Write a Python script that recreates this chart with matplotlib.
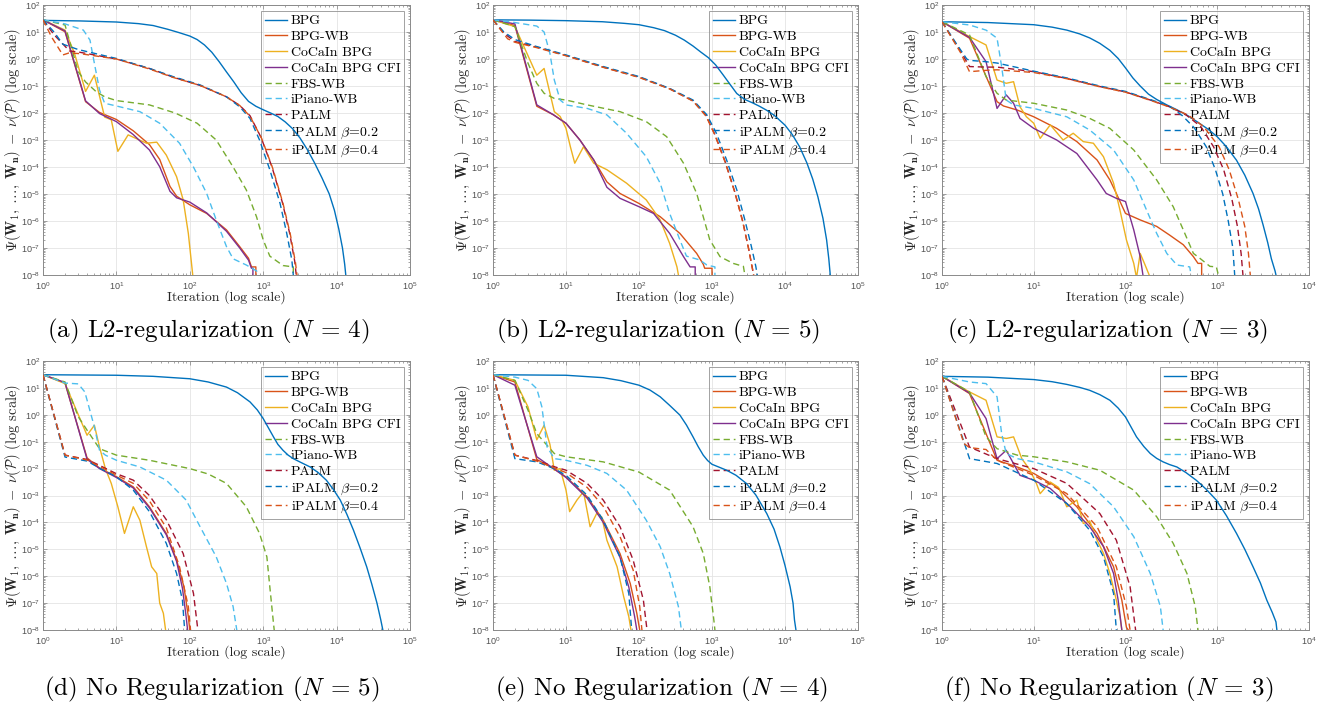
import numpy as np
import matplotlib
matplotlib.use("Agg")
import matplotlib.pyplot as plt
from matplotlib.ticker import LogLocator, NullFormatter, LogFormatterSciNotation

plt.rcParams["font.family"] = "cmr10"
plt.rcParams["mathtext.fontset"] = "dejavusans"
plt.rcParams["axes.formatter.use_mathtext"] = True

# every curve: (log10 iteration, log10 gap) points
SERIES = ["BPG", "BPG-WB", "CoCaIn BPG", "CoCaIn BPG CFI", "FBS-WB",
          "iPiano-WB", "PALM", r"iPALM $\beta$=0.2", r"iPALM $\beta$=0.4"]

CAPTIONS = [r"(a) L2-regularization ($N$ = 4)", r"(b) L2-regularization ($N$ = 5)",
            r"(c) L2-regularization ($N$ = 3)", r"(d) No Regularization ($N$ = 5)",
            r"(e) No Regularization ($N$ = 4)", r"(f) No Regularization ($N$ = 3)"]
X_DECADES = [5, 5, 4, 5, 5, 4]

# ---- (a) ----
A_BPG = [(0, 1.43), (0.5, 1.41), (1.0, 1.37), (1.3, 1.31), (1.5, 1.24), (1.7, 1.1), (1.85, 0.98),
         (2.0, 0.85), (2.1, 0.72), (2.2, 0.52), (2.3, 0.25), (2.4, -0.1), (2.5, -0.48),
         (2.6, -0.85), (2.7, -1.25), (2.8, -1.57), (2.9, -1.75), (3.0, -1.88), (3.1, -2.0),
         (3.2, -2.13), (3.3, -2.33), (3.4, -2.58), (3.5, -2.92), (3.6, -3.35), (3.7, -3.85),
         (3.8, -4.4), (3.9, -5.0), (3.97, -5.6), (4.03, -6.3), (4.08, -7.0), (4.11, -7.6),
         (4.125, -8.0), (4.125, -9)]
A_BPG_WB = [(0, 1.45), (0.3, 1.01), (0.58, -1.58), (0.77, -1.98), (1.0, -2.24), (1.23, -2.66),
            (1.45, -3.17), (1.59, -3.72), (1.73, -4.72), (1.82, -5.08), (2.0, -5.4), (2.23, -5.72),
            (2.5, -6.33), (2.68, -6.95), (2.8, -7.38), (2.84, -7.7), (2.9, -7.7), (2.9, -9)]
A_COCAIN = [(0, 1.45), (0.3, 1.07), (0.43, 0.2), (0.58, -1.2), (0.7, -0.6), (0.84, -2.15),
            (0.93, -2.25), (1.02, -3.42), (1.16, -2.81), (1.41, -3.12), (1.55, -3.08),
            (1.68, -3.56), (1.82, -4.36), (1.91, -5.22), (1.98, -6.46), (2.04, -8.0), (2.04, -9)]
A_CFI = [(0, 1.45), (0.3, 1.04), (0.58, -1.55), (0.77, -2.02), (1.0, -2.32), (1.23, -2.8),
         (1.45, -3.37), (1.59, -3.99), (1.73, -4.9), (1.82, -5.14), (2.0, -5.3), (2.23, -5.7),
         (2.5, -6.38), (2.68, -7.0), (2.8, -7.45), (2.84, -7.75), (2.86, -7.75), (2.86, -9)]
A_FBS = [(0, 1.45), (0.3, 1.26), (0.48, -0.47), (0.58, -0.85), (0.72, -1.2), (0.84, -1.4),
         (1.0, -1.54), (1.45, -1.7), (1.8, -2.0), (2.1, -2.38), (2.36, -3.0), (2.59, -4.0),
         (2.77, -4.85), (2.91, -5.85), (3.0, -6.7), (3.09, -7.3), (3.27, -7.65), (3.41, -7.7),
         (3.41, -9)]
A_IPIANO = [(0, 1.45), (0.3, 1.3), (0.55, 1.07), (0.64, 0.7), (0.7, -0.16), (0.77, -1.15),
            (0.84, -1.64), (1.0, -1.74), (1.32, -1.95), (1.59, -2.38), (1.86, -3.12), (2.05, -4.0),
            (2.23, -4.98), (2.36, -5.96), (2.5, -6.95), (2.59, -7.4), (2.77, -7.63), (2.91, -7.85),
            (2.95, -8.2)]
A_PALM = [(0, 1.45), (0.15, 0.9), (0.36, 0.3), (0.5, 0.25), (1.0, 0.0), (1.45, -0.35),
          (1.77, -0.67), (2.14, -0.98), (2.5, -1.4), (2.68, -1.72), (2.82, -2.1), (2.97, -2.9),
          (3.12, -4.0), (3.26, -5.3), (3.36, -6.45), (3.43, -7.5), (3.45, -8), (3.45, -9)]
A_IPALM2 = [(0, 1.45), (0.15, 1.0), (0.27, 0.55), (0.48, 0.35), (1.0, 0.02), (1.45, -0.35),
            (1.77, -0.65), (2.14, -0.96), (2.5, -1.4), (2.68, -1.77), (2.82, -2.2), (2.95, -3.0),
            (3.09, -4.1), (3.23, -5.35), (3.32, -6.45), (3.39, -7.44), (3.41, -8.0), (3.41, -9)]
A_IPALM4 = [(0, 1.45), (0.12, 0.8), (0.27, 0.15), (0.35, 0.22), (0.5, 0.2), (1.0, 0.0),
            (1.45, -0.37), (1.77, -0.68), (2.14, -0.98), (2.5, -1.4), (2.68, -1.72), (2.82, -2.12),
            (2.98, -2.95), (3.13, -4.05), (3.27, -5.35), (3.37, -6.5), (3.44, -7.55), (3.46, -8),
            (3.46, -9)]

# ---- (b) ----
B_BPG = [(0, 1.45), (0.5, 1.44), (1.0, 1.42), (1.5, 1.38), (1.8, 1.32), (2.0, 1.27), (2.2, 1.16),
         (2.35, 1.05), (2.5, 0.88), (2.62, 0.7), (2.74, 0.48), (2.85, 0.25), (2.95, 0.05),
         (3.05, -0.22), (3.15, -0.58), (3.25, -0.95), (3.34, -1.28), (3.45, -1.5), (3.56, -1.63),
         (3.65, -1.75), (3.75, -1.9), (3.85, -2.08), (4.0, -2.45), (4.1, -2.8), (4.2, -3.25),
         (4.3, -3.85), (4.38, -4.45), (4.45, -5.1), (4.52, -5.9), (4.57, -6.7), (4.6, -7.4),
         (4.62, -8), (4.62, -9)]
B_BPG_WB = [(0, 1.45), (0.3, 1.24), (0.6, -1.75), (0.83, -2.07), (1.0, -2.38), (1.19, -3.0),
            (1.38, -3.74), (1.56, -4.55), (1.74, -4.98), (2.0, -5.35), (2.29, -5.84), (2.56, -6.46),
            (2.79, -7.2), (2.88, -7.6), (2.9, -7.75), (3.0, -7.75), (3.0, -9)]
B_COCAIN = [(0, 1.45), (0.3, 1.2), (0.6, -0.6), (0.7, -0.35), (0.84, -1.95), (0.92, -2.13),
            (1.0, -2.57), (1.06, -3.25), (1.12, -3.86), (1.24, -3.25), (1.38, -3.86), (1.56, -4.1),
            (1.83, -4.6), (2.1, -5.22), (2.29, -5.96), (2.42, -6.83), (2.52, -7.7), (2.54, -8),
            (2.54, -9)]
B_CFI = [(0, 1.45), (0.3, 1.3), (0.6, -1.7), (0.83, -2.07), (1.0, -2.38), (1.19, -3.0),
         (1.38, -3.74), (1.56, -4.75), (1.74, -5.16), (2.0, -5.47), (2.2, -5.72), (2.42, -6.46),
         (2.61, -7.32), (2.7, -7.7), (2.77, -7.7), (2.77, -9)]
B_FBS = [(0, 1.45), (0.3, 1.2), (0.48, -0.16), (0.6, -0.9), (0.7, -1.27), (0.84, -1.46),
         (1.0, -1.52), (1.29, -1.7), (1.74, -1.95), (2.1, -2.32), (2.38, -2.88), (2.61, -3.86),
         (2.79, -4.98), (2.88, -5.84), (2.97, -6.7), (3.11, -7.32), (3.29, -7.57), (3.43, -7.68),
         (3.45, -8), (3.45, -9)]
B_IPIANO = [(0, 1.45), (0.3, 1.35), (0.6, 1.22), (0.7, 1.0), (0.78, 0.2), (0.84, -0.78),
            (0.92, -1.52), (1.0, -1.7), (1.29, -1.83), (1.56, -2.07), (1.83, -2.75), (2.1, -3.62),
            (2.29, -4.6), (2.42, -5.72), (2.56, -6.7), (2.65, -7.3), (2.83, -7.44), (2.93, -7.63),
            (3.04, -7.7), (3.04, -9)]
B_PALM = [(0, 1.45), (0.15, 0.95), (0.3, 0.65), (0.6, 0.44), (1.0, 0.13), (1.51, -0.3),
          (2.0, -0.67), (2.42, -1.1), (2.74, -1.55), (2.92, -2.1), (3.04, -2.8), (3.18, -3.8),
          (3.31, -4.9), (3.42, -6.0), (3.5, -7.0), (3.55, -7.7), (3.57, -8), (3.57, -9)]
B_IPALM2 = [(0, 1.45), (0.15, 1.0), (0.3, 0.72), (0.6, 0.46), (1.0, 0.15), (1.51, -0.28),
            (2.0, -0.65), (2.42, -1.09), (2.74, -1.52), (2.93, -2.07), (3.06, -2.75), (3.2, -3.74),
            (3.34, -4.85), (3.45, -5.96), (3.54, -6.95), (3.6, -7.68), (3.62, -8), (3.62, -9)]
B_IPALM4 = [(0, 1.45), (0.2, 0.75), (0.3, 0.62), (0.6, 0.42), (1.0, 0.12), (1.51, -0.31),
            (2.0, -0.68), (2.42, -1.11), (2.74, -1.56), (2.92, -2.12), (3.04, -2.82), (3.18, -3.82),
            (3.31, -4.92), (3.42, -6.02), (3.5, -7.02), (3.55, -7.72), (3.57, -8), (3.57, -9)]

# ---- (c) ----
C_BPG = [(0, 1.38), (0.5, 1.35), (1.0, 1.27), (1.2, 1.18), (1.36, 1.07), (1.5, 0.93), (1.61, 0.78),
         (1.72, 0.58), (1.83, 0.32), (1.92, 0.02), (2.0, -0.33), (2.08, -0.7), (2.16, -1.0),
         (2.25, -1.3), (2.34, -1.5), (2.45, -1.7), (2.56, -1.88), (2.67, -2.08), (2.77, -2.3),
         (2.9, -2.6), (3.0, -2.88), (3.1, -3.25), (3.21, -3.75), (3.3, -4.3), (3.39, -4.98),
         (3.45, -5.55), (3.5, -6.15), (3.55, -6.8), (3.59, -7.4), (3.63, -7.85), (3.64, -8),
         (3.64, -9)]
C_BPG_WB = [(0, 1.38), (0.3, 0.77), (0.6, -1.58), (0.67, -1.74), (0.82, -1.89), (1.0, -2.14),
            (1.25, -2.57), (1.47, -3.06), (1.69, -3.74), (1.83, -4.48), (1.9, -4.98), (2.0, -5.72),
            (2.16, -5.96), (2.34, -6.2), (2.48, -6.52), (2.63, -6.88), (2.74, -7.32), (2.79, -7.57),
            (2.83, -7.57), (2.83, -9)]
C_COCAIN = [(0, 1.38), (0.3, 0.83), (0.48, 0.52), (0.6, -0.78), (0.7, -0.9), (0.78, -0.84),
            (0.85, -1.77), (0.92, -2.14), (1.0, -2.38), (1.07, -2.94), (1.18, -2.44), (1.32, -3.0),
            (1.43, -2.75), (1.54, -3.06), (1.65, -3.12), (1.76, -3.62), (1.87, -4.6), (1.94, -5.6),
            (2.01, -6.7), (2.09, -7.57), (2.12, -8.1), (2.16, -7.2), (2.21, -7.6), (2.27, -8.1),
            (2.27, -9)]
C_CFI = [(0, 1.38), (0.3, 0.8), (0.48, -0.1), (0.6, -1.83), (0.7, -1.33), (0.78, -1.64),
         (0.85, -2.2), (1.0, -2.57), (1.25, -3.0), (1.47, -3.5), (1.69, -4.48), (1.79, -4.98),
         (1.9, -5.16), (2.0, -5.28), (2.09, -6.33), (2.16, -7.32), (2.19, -8), (2.19, -9)]
C_FBS = [(0, 1.38), (0.3, 0.89), (0.48, -0.65), (0.6, -1.27), (0.7, -1.52), (1.0, -1.64),
         (1.36, -1.89), (1.61, -2.2), (1.83, -2.57), (2.09, -3.37), (2.34, -4.48), (2.52, -5.47),
         (2.63, -6.33), (2.74, -7.2), (2.81, -7.38), (2.92, -7.68), (2.99, -7.7), (3.02, -8.1)]
C_IPIANO = [(0, 1.38), (0.3, 1.26), (0.48, 1.07), (0.6, 0.77), (0.65, -0.28), (0.7, -1.52),
            (0.78, -1.7), (1.0, -1.83), (1.36, -2.14), (1.61, -2.63), (1.87, -3.37), (2.09, -4.48),
            (2.23, -5.6), (2.34, -6.46), (2.45, -7.2), (2.56, -7.63), (2.7, -7.7), (2.72, -8.1)]
C_PALM = [(0, 1.38), (0.2, 0.3), (0.3, -0.28), (0.48, -0.3), (0.6, -0.3), (1.0, -0.47),
          (1.36, -0.72), (1.72, -1.02), (2.0, -1.22), (2.27, -1.52), (2.48, -1.77), (2.66, -2.07),
          (2.82, -2.5), (2.96, -3.25), (3.07, -4.1), (3.16, -5.2), (3.22, -6.2), (3.26, -7.2),
          (3.28, -8), (3.28, -9)]
C_IPALM2 = [(0, 1.38), (0.15, 0.6), (0.27, 0.0), (0.3, -0.05), (0.48, -0.1), (0.6, -0.15),
            (1.0, -0.45), (1.36, -0.7), (1.72, -1.0), (2.0, -1.2), (2.27, -1.5), (2.48, -1.75),
            (2.62, -2.1), (2.75, -2.55), (2.88, -3.25), (2.98, -4.1), (3.06, -5.0), (3.12, -6.0),
            (3.17, -7.0), (3.19, -8), (3.19, -9)]
C_IPALM4 = [(0, 1.38), (0.2, 0.25), (0.3, -0.47), (0.48, -0.42), (0.6, -0.4), (1.0, -0.5),
            (1.36, -0.73), (1.72, -1.03), (2.0, -1.23), (2.27, -1.53), (2.48, -1.78), (2.68, -2.07),
            (2.85, -2.5), (3.02, -3.25), (3.13, -4.1), (3.23, -5.2), (3.3, -6.2), (3.34, -7.2),
            (3.36, -8), (3.36, -9)]

# ---- (d) ----
D_BPG = [(0, 1.49), (1.0, 1.47), (1.5, 1.43), (2.0, 1.34), (2.25, 1.22), (2.5, 1.03), (2.65, 0.82),
         (2.82, 0.48), (2.92, 0.18), (3.0, -0.14), (3.07, -0.48), (3.14, -0.82), (3.2, -1.1),
         (3.27, -1.32), (3.34, -1.5), (3.41, -1.63), (3.52, -1.78), (3.64, -1.94), (3.75, -2.15),
         (3.86, -2.43), (3.95, -2.75), (4.05, -3.17), (4.14, -3.7), (4.23, -4.29), (4.32, -4.95),
         (4.41, -5.65), (4.48, -6.3), (4.55, -7.0), (4.6, -7.6), (4.63, -8), (4.63, -9)]
D_BPG_WB = [(0, 1.49), (0.3, 1.18), (0.6, -1.6), (0.77, -1.98), (1.0, -2.3), (1.23, -2.68),
            (1.45, -3.42), (1.68, -4.41), (1.82, -5.4), (1.92, -6.39), (1.98, -7.5), (2.0, -8),
            (2.0, -9)]
D_COCAIN = [(0, 1.49), (0.3, 1.16), (0.6, -0.76), (0.7, -0.39), (0.77, -1.2), (0.85, -2.0),
            (0.93, -2.55), (1.02, -3.42), (1.11, -4.41), (1.23, -3.42), (1.32, -3.92), (1.41, -4.91),
            (1.48, -5.65), (1.55, -5.9), (1.59, -7.0), (1.64, -7.38), (1.67, -8), (1.67, -9)]
D_CFI = [(0, 1.49), (0.3, 1.2), (0.6, -1.65), (0.77, -2.0), (1.0, -2.33), (1.23, -2.72),
         (1.45, -3.46), (1.68, -4.46), (1.82, -5.45), (1.9, -6.45), (1.95, -7.5), (1.97, -8),
         (1.97, -9)]
D_FBS = [(0, 1.49), (0.3, 1.22), (0.48, -0.07), (0.6, -0.57), (0.77, -1.26), (1.0, -1.5),
         (1.45, -1.69), (2.0, -2.0), (2.25, -2.2), (2.5, -2.55), (2.77, -3.42), (2.95, -4.41),
         (3.05, -5.28), (3.09, -6.39), (3.14, -7.75), (3.15, -8), (3.15, -9)]
D_IPIANO = [(0, 1.49), (0.3, 1.18), (0.48, 1.15), (0.57, 0.85), (0.7, -0.45), (0.77, -1.32),
            (0.85, -1.5), (1.0, -1.69), (1.32, -1.94), (1.68, -2.43), (1.95, -3.17), (2.14, -4.16),
            (2.36, -5.28), (2.5, -6.27), (2.59, -7.13), (2.64, -8), (2.64, -9)]
D_PALM = [(0, 1.49), (0.3, -1.5), (0.6, -1.66), (0.77, -1.88), (1.0, -2.19), (1.23, -2.43),
          (1.45, -3.0), (1.68, -3.9), (1.91, -5.16), (2.05, -6.64), (2.11, -8), (2.11, -9)]
D_IPALM2 = [(0, 1.49), (0.3, -1.57), (0.6, -1.72), (0.77, -1.98), (1.0, -2.3), (1.23, -2.8),
            (1.45, -3.6), (1.68, -4.78), (1.82, -5.9), (1.9, -6.9), (1.93, -8), (1.93, -9)]
D_IPALM4 = [(0, 1.49), (0.3, -1.5), (0.6, -1.68), (0.77, -1.92), (1.0, -2.24), (1.23, -2.55),
            (1.45, -3.2), (1.68, -4.2), (1.86, -5.65), (1.98, -7.13), (2.01, -8), (2.01, -9)]

# ---- (e) ----
E_BPG = [(0, 1.49), (1.0, 1.47), (1.51, 1.38), (1.75, 1.27), (2.0, 1.1), (2.15, 0.92), (2.29, 0.67),
         (2.42, 0.35), (2.56, -0.01), (2.65, -0.38), (2.74, -0.82), (2.81, -1.18), (2.88, -1.5),
         (2.94, -1.7), (3.0, -1.84), (3.1, -1.95), (3.2, -2.06), (3.33, -2.25), (3.47, -2.55),
         (3.6, -2.98), (3.75, -3.67), (3.85, -4.25), (3.93, -4.91), (4.0, -5.6), (4.07, -6.39),
         (4.11, -7.0), (4.13, -7.63), (4.15, -8), (4.15, -9)]
E_BPG_WB = [(0, 1.49), (0.3, 1.22), (0.6, -1.66), (0.83, -2.0), (1.0, -2.31), (1.29, -3.05),
            (1.51, -3.92), (1.74, -5.16), (1.88, -6.27), (1.97, -7.38), (2.01, -8), (2.01, -9)]
E_COCAIN = [(0, 1.49), (0.3, 1.28), (0.48, 0.29), (0.6, -0.93), (0.7, -0.39), (0.78, -1.1),
            (0.84, -2.06), (0.92, -2.0), (1.0, -2.8), (1.05, -3.6), (1.15, -3.17), (1.24, -2.86),
            (1.33, -4.16), (1.42, -3.67), (1.49, -3.8), (1.56, -4.66), (1.7, -5.65), (1.79, -6.76),
            (1.86, -7.5), (1.89, -8), (1.89, -9)]
E_CFI = [(0, 1.49), (0.3, 1.1), (0.6, -1.56), (0.83, -2.0), (1.0, -2.33), (1.29, -3.1),
         (1.51, -4.0), (1.74, -5.3), (1.86, -6.4), (1.94, -7.5), (1.97, -8), (1.97, -9)]
E_FBS = [(0, 1.49), (0.3, 1.28), (0.48, 0.17), (0.6, -0.7), (0.84, -1.44), (1.0, -1.56),
         (1.51, -1.75), (2.0, -2.13), (2.42, -2.8), (2.74, -4.16), (2.88, -5.15), (2.97, -6.39),
         (3.02, -7.5), (3.04, -8), (3.04, -9)]
E_IPIANO = [(0, 1.49), (0.3, 1.4), (0.48, 1.28), (0.6, 0.97), (0.67, 0.29), (0.74, -1.19),
            (0.84, -1.63), (1.0, -1.69), (1.29, -1.88), (1.56, -2.18), (1.83, -2.8), (2.1, -3.92),
            (2.29, -4.9), (2.42, -5.9), (2.54, -7.13), (2.58, -8), (2.58, -9)]
E_PALM = [(0, 1.49), (0.3, -1.5), (0.6, -1.7), (0.84, -1.93), (1.0, -2.06), (1.29, -2.55),
          (1.51, -3.17), (1.74, -4.16), (1.92, -5.4), (2.06, -6.89), (2.11, -8), (2.11, -9)]
E_IPALM2 = [(0, 1.49), (0.3, -1.63), (0.6, -1.75), (0.84, -2.0), (1.0, -2.25), (1.29, -2.99),
            (1.51, -3.92), (1.74, -5.28), (1.86, -6.64), (1.9, -8), (1.9, -9)]
E_IPALM4 = [(0, 1.49), (0.3, -1.5), (0.6, -1.72), (0.84, -1.97), (1.0, -2.15), (1.29, -2.7),
            (1.51, -3.4), (1.74, -4.53), (1.92, -5.77), (2.01, -7.13), (2.04, -8), (2.04, -9)]

# ---- (f) ----
F_BPG = [(0, 1.43), (0.5, 1.4), (1.0, 1.31), (1.2, 1.23), (1.36, 1.13), (1.5, 1.02), (1.61, 0.91),
         (1.72, 0.75), (1.83, 0.54), (1.92, 0.25), (2.0, -0.08), (2.06, -0.45), (2.12, -0.82),
         (2.2, -1.18), (2.27, -1.44), (2.34, -1.62), (2.41, -1.75), (2.48, -1.85), (2.56, -1.94),
         (2.66, -2.15), (2.77, -2.43), (2.88, -2.77), (2.99, -3.17), (3.1, -3.75), (3.21, -4.41),
         (3.3, -5.0), (3.39, -5.65), (3.47, -6.25), (3.54, -6.89), (3.6, -7.35), (3.64, -7.7),
         (3.65, -8), (3.65, -9)]
F_BPG_WB = [(0, 1.43), (0.3, 0.79), (0.6, -1.69), (0.82, -1.94), (1.0, -2.18), (1.25, -2.68),
            (1.47, -3.42), (1.69, -4.41), (1.87, -5.65), (1.96, -6.89), (2.01, -7.9), (2.03, -8),
            (2.03, -9)]
F_COCAIN = [(0, 1.43), (0.3, 0.85), (0.48, 0.54), (0.6, -0.82), (0.7, -0.88), (0.78, -0.82),
            (0.87, -1.63), (0.96, -2.06), (1.03, -2.56), (1.07, -2.93), (1.18, -2.5), (1.27, -2.7),
            (1.36, -3.42), (1.47, -3.17), (1.54, -4.04), (1.61, -3.95), (1.69, -4.66), (1.76, -5.15),
            (1.83, -5.9), (1.9, -6.89), (1.94, -7.5), (1.96, -8), (1.96, -9)]
F_CFI = [(0, 1.43), (0.3, 0.81), (0.48, -0.14), (0.6, -1.63), (0.7, -1.32), (0.85, -2.25),
         (1.0, -2.43), (1.18, -2.74), (1.4, -3.42), (1.61, -4.16), (1.76, -4.9), (1.87, -5.9),
         (1.92, -6.89), (1.96, -8), (1.96, -9)]
F_FBS = [(0, 1.43), (0.3, 0.85), (0.48, -0.82), (0.6, -1.26), (0.82, -1.5), (1.0, -1.56),
         (1.36, -1.75), (1.72, -2.06), (2.09, -2.8), (2.34, -3.79), (2.52, -4.78), (2.67, -5.9),
         (2.76, -7.13), (2.79, -8), (2.79, -9)]
F_IPIANO = [(0, 1.43), (0.3, 1.22), (0.48, 1.16), (0.6, 0.67), (0.65, -0.7), (0.7, -1.44),
            (0.82, -1.63), (1.0, -1.75), (1.36, -2.12), (1.61, -2.56), (1.87, -3.42), (2.09, -4.53),
            (2.27, -5.9), (2.38, -7.13), (2.41, -8), (2.41, -9)]
F_PALM = [(0, 1.43), (0.3, -1.2), (0.6, -1.63), (1.0, -2.0), (1.36, -2.55), (1.72, -3.67),
          (1.9, -4.66), (2.05, -6.39), (2.11, -8), (2.11, -9)]
F_IPALM2 = [(0, 1.43), (0.3, -1.63), (0.6, -1.81), (1.0, -2.43), (1.36, -3.3), (1.61, -4.29),
            (1.76, -5.28), (1.87, -6.64), (1.9, -8), (1.9, -9)]
F_IPALM4 = [(0, 1.43), (0.24, -1.07), (0.3, -1.22), (0.48, -1.29), (0.6, -1.69), (1.0, -2.25),
            (1.36, -2.93), (1.69, -4.16), (1.9, -5.65), (2.01, -7.13), (2.05, -8), (2.05, -9)]

PANELS = [
    [A_BPG, A_BPG_WB, A_COCAIN, A_CFI, A_FBS, A_IPIANO, A_PALM, A_IPALM2, A_IPALM4],
    [B_BPG, B_BPG_WB, B_COCAIN, B_CFI, B_FBS, B_IPIANO, B_PALM, B_IPALM2, B_IPALM4],
    [C_BPG, C_BPG_WB, C_COCAIN, C_CFI, C_FBS, C_IPIANO, C_PALM, C_IPALM2, C_IPALM4],
    [D_BPG, D_BPG_WB, D_COCAIN, D_CFI, D_FBS, D_IPIANO, D_PALM, D_IPALM2, D_IPALM4],
    [E_BPG, E_BPG_WB, E_COCAIN, E_CFI, E_FBS, E_IPIANO, E_PALM, E_IPALM2, E_IPALM4],
    [F_BPG, F_BPG_WB, F_COCAIN, F_CFI, F_FBS, F_IPIANO, F_PALM, F_IPALM2, F_IPALM4],
]

# MATLAB default colour order
STYLES = [("#0072BD", "-"), ("#D95319", "-"), ("#EDB120", "-"), ("#7E2F8E", "-"),
          ("#77AC30", "--"), ("#4DBEEE", "--"), ("#A2142F", "--"), ("#0072BD", "--"),
          ("#D95319", "--")]

W, H = 1322, 707
fig = plt.figure(figsize=(W / 100, H / 100), dpi=100)

# axes boxes in pixels
AX_LEFT = [43, 493, 942]
AX_RIGHT = [410, 858, 1309]
ROW_TOP = [5, 361]
ROW_BOT = [275, 630]
CAP_X = [[208, 658, 1108], [212, 661, 1109]]
CAP_Y = [331, 689]

ylabel = (r"$\Psi(\mathbf{W}_1,\;\ldots,\;\mathbf{W}_\mathbf{n})\;-\;\nu(\mathcal{P})$"
          r" (log scale)")

for i, curves in enumerate(PANELS):
    r, c = divmod(i, 3)
    l, rr = AX_LEFT[c], AX_RIGHT[c]
    t, b = ROW_TOP[r], ROW_BOT[r]
    ax = fig.add_axes([l / W, 1 - b / H, (rr - l) / W, (b - t) / H])
    for name, pts, (color, ls) in zip(SERIES, curves, STYLES):
        lx, ly = np.array(pts).T
        kw = dict(dashes=(4.5, 2.8)) if ls == "--" else {}
        ax.plot(10.0 ** lx, 10.0 ** ly, color=color, linestyle=ls, lw=1.0, label=name,
                zorder=3, **kw)
    ax.set_xscale("log")
    ax.set_yscale("log")
    ax.set_xlim(1, 10 ** X_DECADES[i])
    ax.set_ylim(1e-8, 1e2)
    ax.xaxis.set_major_locator(LogLocator(base=10, numticks=12))
    ax.yaxis.set_major_locator(LogLocator(base=10, numticks=12))
    ax.xaxis.set_minor_locator(LogLocator(base=10, subs=np.arange(2, 10), numticks=12))
    ax.yaxis.set_minor_locator(LogLocator(base=10, subs=np.arange(2, 10), numticks=12))
    ax.xaxis.set_minor_formatter(NullFormatter())
    ax.yaxis.set_minor_formatter(NullFormatter())
    ax.xaxis.set_major_formatter(LogFormatterSciNotation())
    ax.yaxis.set_major_formatter(LogFormatterSciNotation())
    ax.grid(True, which="major", color="#e4e4e4", lw=0.6)
    ax.set_axisbelow(True)
    ax.tick_params(which="both", direction="in", top=True, right=True,
                   color="#808080", width=0.5, labelsize=6.5, labelcolor="#505050", pad=2,
                   labelfontfamily="Liberation Sans")
    ax.tick_params(axis="x", which="major", pad=3.5)
    ax.tick_params(which="major", length=3)
    ax.tick_params(which="minor", length=1.5)
    for s in ax.spines.values():
        s.set_color("#8a8a8a")
        s.set_linewidth(0.7)
    ax.set_xlabel("Iteration (log scale)", fontsize=10, color="#262626", va="baseline")
    ax.xaxis.set_label_coords(0.5, -26 / (b - t))
    yl = ax.set_ylabel(ylabel, fontsize=10.5, color="#262626", va="center")
    yl.set_math_fontfamily("cm")
    ax.yaxis.set_label_coords(-30 / (rr - l), 0.5)
    leg = ax.legend(loc="upper right", fontsize=10, frameon=True, fancybox=False,
                    edgecolor="#8a8a8a", facecolor="none", borderaxespad=0.4,
                    handlelength=1.6, handletextpad=0.25, labelspacing=0.22, borderpad=0.3)
    leg.get_frame().set_linewidth(0.7)
    leg.set_zorder(1)
    for txt in leg.get_texts():
        txt.set_math_fontfamily("cm")
    cap = fig.text(CAP_X[r][c] / W, 1 - CAP_Y[r] / H, CAPTIONS[i], fontsize=18,
                   ha="center", va="center")
    cap.set_math_fontfamily("cm")

fig.savefig("out.png", dpi=100)
